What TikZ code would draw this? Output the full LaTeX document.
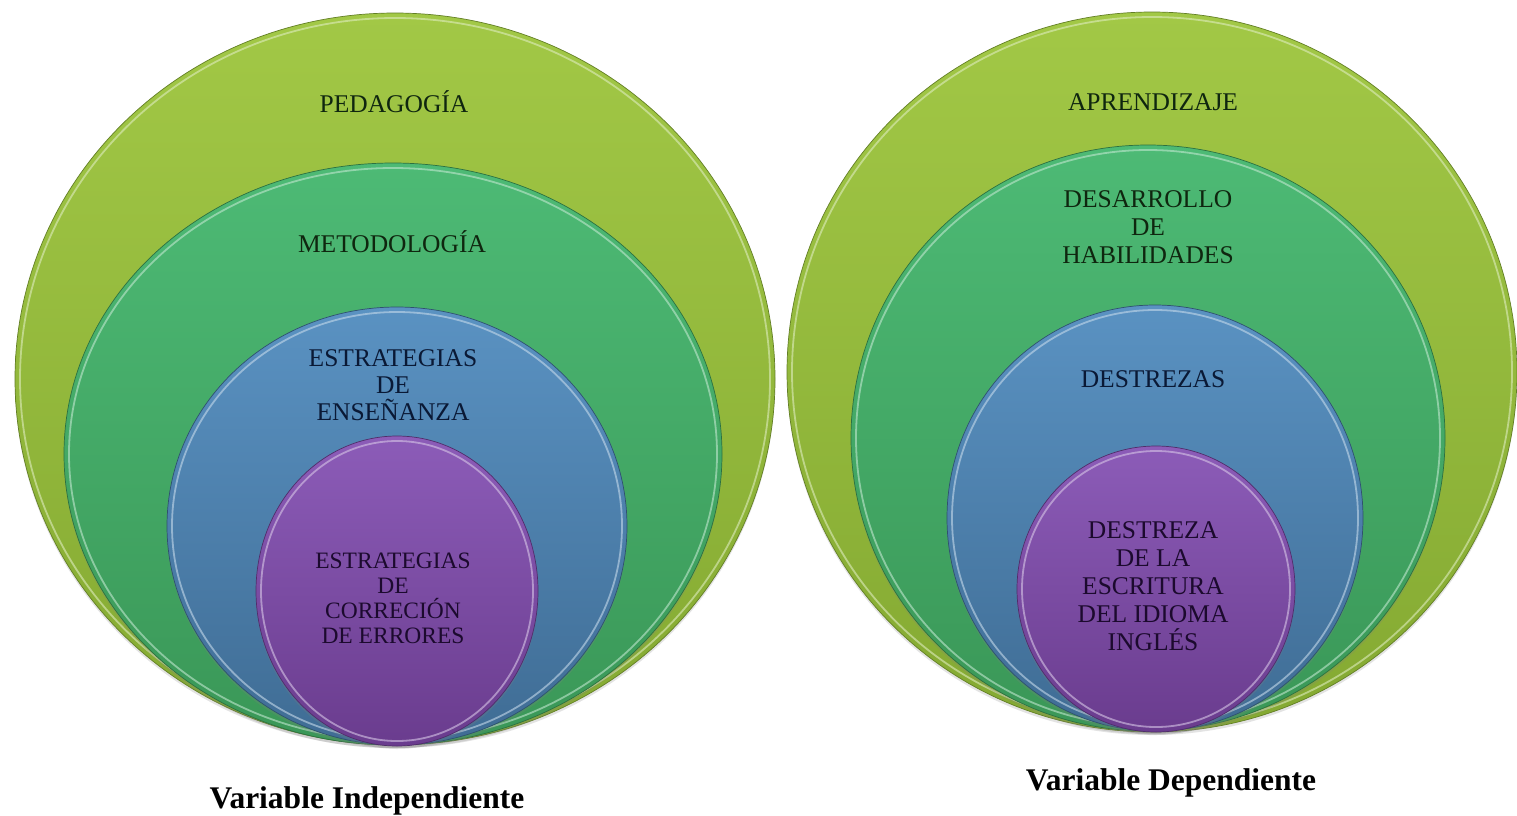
\documentclass[tikz,border=0pt]{standalone}
\usepackage{fontspec}
\setmainfont{Liberation Serif}
\usetikzlibrary{shapes.geometric,shadows}

\definecolor{limeT}{HTML}{A2C846}
\definecolor{limeB}{HTML}{84A932}
\definecolor{grnT}{HTML}{4DBA75}
\definecolor{grnB}{HTML}{3A9757}
\definecolor{bluT}{HTML}{5A92C2}
\definecolor{bluB}{HTML}{3F6C94}
\definecolor{purT}{HTML}{8C5CB8}
\definecolor{purB}{HTML}{6A3C8E}
\definecolor{txtG}{HTML}{0F260F}
\definecolor{txtB}{HTML}{0A1935}
\definecolor{txtP}{HTML}{1C0A2E}

\tikzset{
  disc/.style={ellipse, inner sep=0pt, draw=#1B!75!black, line width=0.7pt,
    top color=#1T, bottom color=#1B,
    drop shadow={shadow xshift=0pt, shadow yshift=-3pt, opacity=0.22}},
  rim/.style={draw=#1T!35!white, line width=1.8pt, opacity=0.6},
  lbl/.style={align=center, anchor=base, inner sep=0pt, text=#1,
    font=\fontsize{25.5pt}{28pt}\selectfont},
  lblsmall/.style={align=center, anchor=base, inner sep=0pt, text=#1,
    font=\fontsize{23.5pt}{25pt}\selectfont},
  caption/.style={anchor=base, inner sep=0pt, font=\bfseries\fontsize{31.5pt}{34pt}\selectfont},
}

\begin{document}
\begin{tikzpicture}[x=1pt,y=-1pt]
\useasboundingbox[fill=white] (0,0) rectangle (1517,815);

% ---- left set ----
\node[disc=lime, minimum width=760pt, minimum height=732pt] (oL) at (395,379) {};
\draw[rim=lime] (oL.center) ellipse [x radius=375pt, y radius=361pt];
\node[disc=grn, minimum width=658pt, minimum height=582pt] (gL) at (393,454) {};
\draw[rim=grn] (gL.center) ellipse [x radius=324pt, y radius=286pt];
\node[disc=blu, minimum width=460pt, minimum height=438pt] (bL) at (397,526) {};
\draw[rim=blu] (bL.center) ellipse [x radius=225pt, y radius=214pt];
\node[disc=pur, minimum width=282pt, minimum height=310pt] (pL) at (397,591) {};
\draw[rim=pur] (pL.center) ellipse [x radius=136pt, y radius=150pt];

% base anchor of a multi-line node = baseline of its last line
\node[lbl=txtG] (tPed) at (394,112) {PEDAGOGÍA};
\node[lbl=txtG] (tMet) at (392,252) {METODOLOGÍA};
\node[lbl=txtB] (tEst) at (393,420) {ESTRATEGIAS\\[-1pt]DE\\[-1pt]ENSEÑANZA};
\node[lblsmall=txtP] (tCor) at (393,643) {ESTRATEGIAS\\DE\\CORRECIÓN\\DE ERRORES};

% ---- right set ----
\node[disc=lime, minimum width=730pt, minimum height=720pt] (oR) at (1152,372) {};
\draw[rim=lime] (oR.center) ellipse [x radius=360pt, y radius=355pt];
\node[disc=grn, minimum width=594pt, minimum height=586pt] (gR) at (1148,438) {};
\draw[rim=grn] (gR.center) ellipse [x radius=292pt, y radius=288pt];
\node[disc=blu, minimum width=416pt, minimum height=426pt] (bR) at (1155,518) {};
\draw[rim=blu] (bR.center) ellipse [x radius=203pt, y radius=208pt];
\node[disc=pur, minimum width=278pt, minimum height=286pt] (pR) at (1156,589) {};
\draw[rim=pur] (pR.center) ellipse [x radius=134pt, y radius=138pt];

\node[lbl=txtG] (tApr) at (1153,110) {APRENDIZAJE};
\node[lbl=txtG] (tDes) at (1148,263) {DESARROLLO\\DE\\HABILIDADES};
\node[lbl=txtB] (tDtz) at (1153,387) {DESTREZAS};
\node[lbl=txtP] (tEsc) at (1153,650) {DESTREZA\\DE LA\\ESCRITURA\\DEL IDIOMA\\INGLÉS};

% ---- captions ----
\node[caption] (cL) at (367,808) {Variable Independiente};
\node[caption] (cR) at (1171,790) {Variable Dependiente};
\end{tikzpicture}
\end{document}
